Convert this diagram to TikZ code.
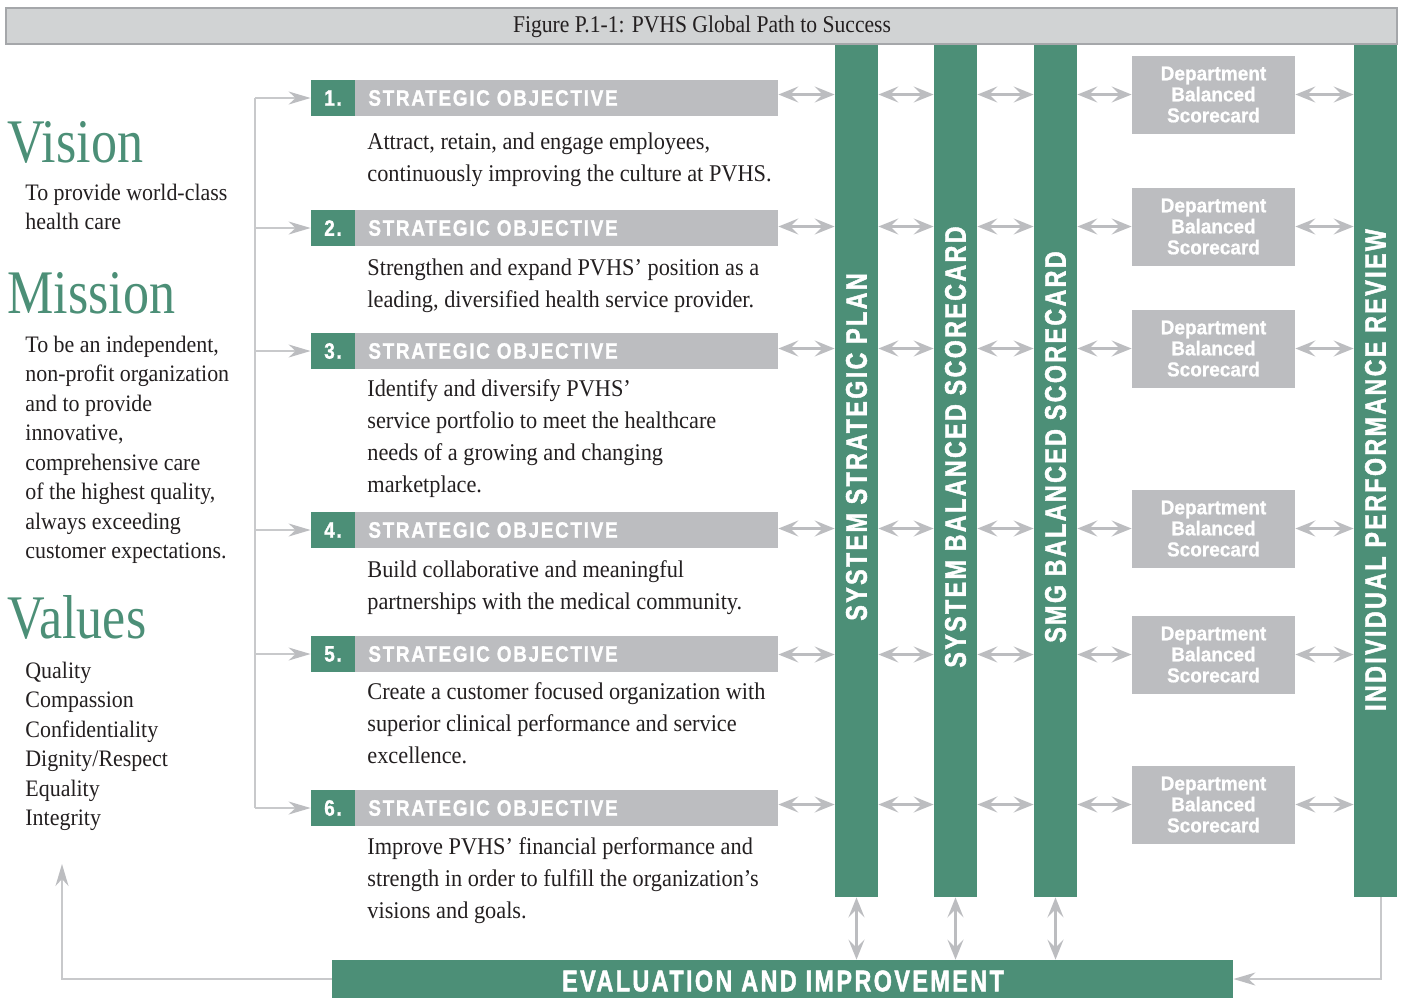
\documentclass[tikz,border=0pt]{standalone}
\usepackage{fontspec}
\usetikzlibrary{arrows.meta}
\setmainfont{Liberation Serif}
\newfontfamily\bodyf{Liberation Serif}[FakeStretch=0.93]
\newfontfamily\bigf{Liberation Serif}[FakeStretch=0.84]
\newfontfamily\titlef{Liberation Serif}[FakeStretch=0.9]
\newfontfamily\hdrf{Liberation Sans}[UprightFont={* Bold},FakeStretch=0.85,LetterSpace=7.5,FakeBold=1.2]
\newfontfamily\barf{Liberation Sans}[UprightFont={* Bold},FakeStretch=0.78,LetterSpace=8,FakeBold=1.5]
\newfontfamily\deptf{Liberation Sans}[UprightFont={* Bold},FakeStretch=0.95,FakeBold=0.8]
\definecolor{pgreen}{RGB}{76,143,119}
\definecolor{hgray}{RGB}{188,189,192}
\definecolor{agray}{RGB}{188,189,192}
\definecolor{lgray}{RGB}{200,201,203}
\definecolor{tfill}{RGB}{209,211,212}
\definecolor{tborder}{RGB}{165,167,170}
\definecolor{ink}{RGB}{35,31,32}
\tikzset{
  grn/.style={fill=pgreen, draw=none, inner sep=0pt},
  gry/.style={fill=hgray, draw=none, inner sep=0pt},
  hdrtext/.style={inner sep=0pt, text=white, font=\fontsize{11.15pt}{13pt}\hdrf},
  bartext/.style={inner sep=0pt, text=white, font=\fontsize{14.9pt}{17pt}\barf},
  evtext/.style={inner sep=0pt, text=white, font=\fontsize{15pt}{17pt}\barf},
  depttext/.style={text=white, align=center, font=\fontsize{10pt}{10.5pt}\deptf},
  body/.style={inner sep=0pt, anchor=base west, align=left, text=ink, font=\fontsize{12pt}{16pt}\bodyf},
  lbody/.style={inner sep=0pt, anchor=base west, align=left, text=ink, font=\fontsize{11.8pt}{14.75pt}\bodyf},
  big/.style={inner sep=0pt, anchor=base west, text=pgreen, font=\fontsize{31pt}{34pt}\bigf},
  dbl/.style={draw=agray, line width=1.3pt, {Stealth[length=10pt,width=8pt,inset=4pt]}-{Stealth[length=10pt,width=8pt,inset=4pt]}},
  thinline/.style={draw=lgray, line width=0.8pt},
  sarr/.style={thinline, -{Stealth[length=11pt,width=6.5pt,inset=3.5pt,color=agray]}},
}
\begin{document}
\begin{tikzpicture}[x=0.5pt,y=-0.5pt]
\useasboundingbox (0,0) rectangle (1403,998);
% title
\node[draw=tborder, fill=tfill, line width=0.6pt, inner sep=0pt, minimum width=695.5pt, minimum height=18pt] (title) at (701.5,26) {};
\node[anchor=base, inner sep=0pt, text=ink, font=\fontsize{12pt}{14pt}\titlef] (titletext) at (702,32) {Figure P.1-1: PVHS Global Path to Success};
% left column (base anchor = baseline of last line)
\node[big] (vision) at (7,162) {Vision};
\node[lbody] (visiontext) at (25,229.5) {To provide world-class\\health care};
\node[big] (mission) at (7,313) {Mission};
\node[lbody] (missiontext) at (25,558.5) {To be an independent,\\non-profit organization\\and to provide\\innovative,\\comprehensive care\\of the highest quality,\\always exceeding\\customer expectations.};
\node[big] (values) at (7,638) {Values};
\node[lbody] (valuestext) at (25,825.5) {Quality\\Compassion\\Confidentiality\\Dignity/Respect\\Equality\\Integrity};
% vertical bars
\node[grn, minimum width=21.5pt, minimum height=426pt] (b1) at (856.5,471) {};
\node[grn, minimum width=21.5pt, minimum height=426pt] (b2) at (955.5,471) {};
\node[grn, minimum width=21.5pt, minimum height=426pt] (b3) at (1055.5,471) {};
\node[grn, minimum width=21.5pt, minimum height=426pt] (b4) at (1375.5,471) {};
\node[bartext, rotate=90] (bt1) at (856.5,447) {SYSTEM STRATEGIC PLAN};
\node[bartext, rotate=90] (bt2) at (955.5,447) {SYSTEM BALANCED SCORECARD};
\node[bartext, rotate=90] (bt3) at (1055.5,447) {SMG BALANCED SCORECARD};
\node[bartext, rotate=90] (bt4) at (1375.5,470) {INDIVIDUAL PERFORMANCE REVIEW};
% evaluation bar
\node[grn, minimum width=450.5pt, minimum height=19pt] (ev) at (782.5,979) {};
\node[evtext] (evt) at (783,981) {EVALUATION AND IMPROVEMENT};
% objectives and departments
\coordinate (lb) at (255,0);
\foreach \i/\hy/\ry in {1/98/94.5, 2/228/226.5, 3/351/348.5, 4/530/528.5, 5/654/654.5, 6/808/804.5}{
  \node[grn, minimum width=22pt, minimum height=18pt] (n\i) at (333,\hy) {};
  \node[hdrtext] (nt\i) at (333,\hy) {\i.};
  \node[gry, minimum width=211.5pt, minimum height=18pt] (h\i) at (566.5,\hy) {};
  \node[hdrtext, anchor=west] (ht\i) at (368,\hy) {STRATEGIC OBJECTIVE};
  \node[gry, minimum width=81.5pt, minimum height=39pt, depttext] (d\i) at (1213.5,\ry) {Department\\Balanced\\Scorecard};
  \draw[dbl] (h\i.east |- d\i) -- (b1.west |- d\i);
  \draw[dbl] (b1.east |- d\i) -- (b2.west |- d\i);
  \draw[dbl] (b2.east |- d\i) -- (b3.west |- d\i);
  \draw[dbl] (b3.east |- d\i) -- (d\i.west);
  \draw[dbl] (d\i.east) -- (b4.west |- d\i);
  \draw[sarr] (lb |- n\i.west) -- (n\i.west);
}
\draw[thinline] (lb |- n1.west) -- (lb |- n6.west);
% objective texts (base anchor = baseline of last line)
\node[body] (o1) at (367,181) {Attract, retain, and engage employees,\\continuously improving the culture at PVHS.};
\node[body] (o2) at (367,307) {Strengthen and expand PVHS’ position as a\\leading, diversified health service provider.};
\node[body] (o3) at (367,492) {Identify and diversify PVHS’\\service portfolio to meet the healthcare\\needs of a growing and changing\\marketplace.};
\node[body] (o4) at (367,609) {Build collaborative and meaningful\\partnerships with the medical community.};
\node[body] (o5) at (367,763) {Create a customer focused organization with\\superior clinical performance and service\\excellence.};
\node[body] (o6) at (367,918) {Improve PVHS’ financial performance and\\strength in order to fulfill the organization’s\\visions and goals.};
% bottom connections
\draw[dbl] (b1.south) -- (b1.south |- ev.north);
\draw[dbl] (b2.south) -- (b2.south |- ev.north);
\draw[dbl] (b3.south) -- (b3.south |- ev.north);
\coordinate (rt) at (1381,897);
\draw[sarr] (rt) |- (ev.east);
\coordinate (lt) at (62,864);
\draw[sarr] (ev.west) -| (lt);
\end{tikzpicture}
\end{document}
